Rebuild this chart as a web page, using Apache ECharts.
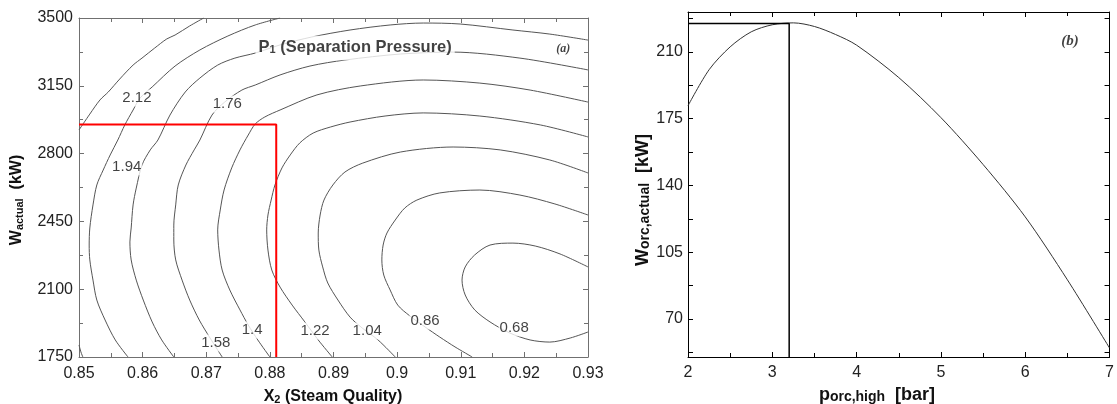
<!DOCTYPE html>
<html>
<head>
<meta charset="utf-8">
<script src="https://cdn.jsdelivr.net/npm/echarts@6/dist/echarts.min.js"></script>
<style>
html, body { margin: 0; padding: 0; background: #fff; }
#chart { width: 1117px; height: 404px; }
</style>
</head>
<body>
<div id="chart"></div>
<script>
// (a) contour lines of P1, points are [X2, W_actual]
var c212top = [[0.85,2922],[0.8517,3004],[0.8533,3077],[0.8546,3118],[0.8564,3185],[0.8585,3257],[0.8599,3293],[0.8619,3345],[0.8638,3392],[0.8651,3412],[0.8674,3459],[0.8696,3500]];
var c212corner = [[0.85,1812],[0.8503,1776],[0.8506,1750]];
var c194 = [[0.8577,1750],[0.8557,1838],[0.8541,1941],[0.8528,2044],[0.8522,2147],[0.8517,2251],[0.8516,2328],[0.8517,2416],[0.8522,2535],[0.8528,2638],[0.8538,2715],[0.8549,2793],[0.8561,2870],[0.8572,2948],[0.8585,3025],[0.8596,3087],[0.8615,3144],[0.8651,3252],[0.8690,3335],[0.8734,3407],[0.8777,3464],[0.8816,3500]];
var c176 = [[0.8649,1750],[0.8630,1838],[0.8615,1931],[0.8601,2044],[0.8590,2147],[0.8582,2251],[0.8580,2344],[0.8582,2416],[0.8585,2535],[0.8590,2622],[0.8599,2741],[0.8612,2819],[0.8624,2870],[0.8643,2999],[0.8667,3118],[0.8690,3190],[0.8718,3257],[0.8745,3293],[0.8777,3319],[0.8816,3361],[0.8866,3402],[0.8926,3438],[0.8989,3464],[0.9041,3474],[0.9099,3469],[0.9182,3438],[0.9240,3417],[0.93,3386]];
var c158 = [[0.8725,1750],[0.8706,1848],[0.8689,1941],[0.8674,2044],[0.8662,2147],[0.8652,2251],[0.8649,2354],[0.8649,2431],[0.8652,2535],[0.8656,2638],[0.8668,2741],[0.8681,2819],[0.8690,2870],[0.8709,2999],[0.8729,3066],[0.8756,3128],[0.8777,3154],[0.8816,3206],[0.8863,3252],[0.8918,3283],[0.9005,3314],[0.9088,3324],[0.9193,3293],[0.93,3232]];
var c140 = [[0.8800,1750],[0.8781,1838],[0.8766,1915],[0.8753,1993],[0.8737,2096],[0.8725,2199],[0.8720,2302],[0.8718,2406],[0.8722,2509],[0.8728,2612],[0.8740,2726],[0.8753,2819],[0.8766,2896],[0.8777,2953],[0.8792,2989],[0.8816,3025],[0.8874,3103],[0.8942,3149],[0.9041,3180],[0.9130,3164],[0.9209,3128],[0.93,3066]];
var c122 = [[0.8898,1750],[0.8876,1838],[0.8855,1931],[0.8835,2018],[0.8816,2111],[0.8803,2199],[0.8797,2302],[0.8795,2406],[0.8797,2483],[0.8802,2560],[0.8808,2638],[0.8819,2726],[0.8832,2793],[0.8847,2855],[0.8868,2906],[0.8895,2937],[0.8926,2963],[0.8981,2994],[0.9041,3010],[0.9130,2994],[0.9225,2948],[0.93,2886]];
var c104 = [[0.8997,1750],[0.8970,1838],[0.8945,1900],[0.8926,1956],[0.8907,2044],[0.8891,2132],[0.8883,2215],[0.8877,2302],[0.8876,2390],[0.8879,2483],[0.8885,2560],[0.8899,2638],[0.8918,2705],[0.8946,2751],[0.9005,2808],[0.9088,2834],[0.9162,2819],[0.9240,2767],[0.93,2700]];
var c086 = [[0.9118,1750],[0.9091,1802],[0.9067,1853],[0.9044,1905],[0.9020,1962],[0.9001,2018],[0.8989,2096],[0.8979,2173],[0.8976,2251],[0.8978,2328],[0.8984,2390],[0.8997,2457],[0.9012,2519],[0.9031,2560],[0.9067,2597],[0.9130,2612],[0.9193,2586],[0.9248,2540],[0.93,2483]];
var c068 = [[0.93,2215],[0.9256,2282],[0.9217,2323],[0.9182,2338],[0.9146,2328],[0.9122,2277],[0.9107,2215],[0.9102,2147],[0.9107,2070],[0.9122,1993],[0.9146,1931],[0.9177,1874],[0.9209,1838],[0.9240,1827],[0.9272,1848],[0.93,1879]];

// contour labels [X2, W, text]
var contourLabels = [
  [0.8591, 3087, '2.12'], [0.8575, 2731, '1.94'], [0.8733, 3056, '1.76'],
  [0.8715, 1822, '1.58'], [0.8772, 1889, '1.4'], [0.8871, 1884, '1.22'],
  [0.8953, 1884, '1.04'], [0.9044, 1936, '0.86'], [0.9184, 1900, '0.68']
];

// selected point in (a)
var selX2 = 0.881;
var selW = 2950;

// (b) ORC power vs high pressure
var pOrcHigh = [2.0, 2.25, 2.5, 2.75, 3.0, 3.25, 3.5, 3.75, 4.0, 4.5, 5.0, 5.5, 6.0, 6.5, 7.0];
var wOrcActual = [181.8, 200.7, 212.7, 220.6, 224.3, 225.3, 223.4, 219.2, 213.6, 196.6, 175.6, 151.0, 123.5, 90.5, 54.7];
var optP = 3.2;
var optW = 225;

// tick values for (b) y axis
var bTicks = [52.5, 70, 87.5, 105, 122.5, 140, 157.5, 175, 192.5, 210, 227.5];
var bLabels = [70, 105, 140, 175, 210];

var sans = '"Liberation Sans", Arial, sans-serif';
var serif = '"Liberation Serif", "Times New Roman", serif';

function rich(big, small) {
  return {
    b: { fontSize: big, fontWeight: 'bold', fill: '#111', color: '#111', fontFamily: sans, lineHeight: big, verticalAlign: 'top' },
    s: { fontSize: small, fontWeight: 'bold', fill: '#111', color: '#111', fontFamily: sans, lineHeight: small, padding: [Math.round(big * 0.45), 0, 0, 0], verticalAlign: 'bottom' }
  };
}

function plain(v) { return String(v); }

var grayA = '#707070';

var myChart = echarts.init(document.getElementById('chart'));

function contour(pts) {
  return {
    type: 'line', xAxisIndex: 0, yAxisIndex: 0, data: pts,
    showSymbol: false, smooth: 0.3, silent: true, z: 2,
    lineStyle: { color: '#555', width: 1 }
  };
}

var series = [c212top, c212corner, c194, c176, c158, c140, c122, c104, c086, c068].map(contour);

series.push({
  type: 'line', xAxisIndex: 0, yAxisIndex: 0, showSymbol: false, silent: true, z: 3,
  data: [[0.85, selW], [selX2, selW], [selX2, 1750]],
  lineStyle: { color: '#ff0000', width: 2 }
});

series.push({
  type: 'scatter', xAxisIndex: 0, yAxisIndex: 0, silent: true, z: 6,
  symbolSize: 1, itemStyle: { color: 'rgba(0,0,0,0)' },
  data: contourLabels,
  label: {
    show: true, position: 'inside', formatter: function (p) { return p.value[2]; },
    fontSize: 15, color: '#111', fontFamily: sans, backgroundColor: '#fff', padding: [1, 1]
  }
});

series.push({
  type: 'scatter', xAxisIndex: 0, yAxisIndex: 0, silent: true, z: 6,
  symbolSize: 1, itemStyle: { color: 'rgba(0,0,0,0)' },
  data: [[0.8934, 3345]],
  label: {
    show: true, position: 'inside', formatter: '{b|P}{s|1}{b| (Separation Pressure)}',
    backgroundColor: '#fff', padding: [3, 3, 5, 3], rich: rich(16.5, 11)
  }
});

series.push({
  type: 'scatter', xAxisIndex: 0, yAxisIndex: 0, silent: true, z: 6,
  symbolSize: 1, itemStyle: { color: 'rgba(0,0,0,0)' },
  data: [[0.9261, 3340]],
  label: { show: true, position: 'inside', formatter: '(a)', fontSize: 12, fontStyle: 'italic', fontWeight: 'bold', fontFamily: serif, color: '#111' }
});

series.push({
  type: 'line', xAxisIndex: 2, yAxisIndex: 2, showSymbol: false, silent: true, z: 2,
  data: pOrcHigh.map(function (p, i) { return [p, wOrcActual[i]]; }),
  smooth: 0.3,
  lineStyle: { color: '#333', width: 1 }
});

series.push({
  type: 'line', xAxisIndex: 2, yAxisIndex: 2, showSymbol: false, silent: true, z: 3,
  data: [[2, optW], [optP, optW], [optP, 50]],
  lineStyle: { color: '#000', width: 1.5 }
});

series.push({
  type: 'scatter', xAxisIndex: 2, yAxisIndex: 2, silent: true, z: 6,
  symbolSize: 1, itemStyle: { color: 'rgba(0,0,0,0)' },
  data: [[6.53, 215.9]],
  label: { show: true, position: 'inside', formatter: '(b)', fontSize: 15, fontStyle: 'italic', fontWeight: 'bold', fontFamily: serif, color: '#111' }
});

// axis titles as plain text, subscripts via rich text
function title(x, y, rot, text, big, small) {
  return {
    type: 'text', x: x, y: y, rotation: rot, silent: true,
    style: { text: text, align: 'center', verticalAlign: 'middle', rich: rich(big, small) }
  };
}

var option = {
  animation: false,
  backgroundColor: '#fff',
  grid: [
    { left: 79, top: 18, width: 509, height: 339 },
    { left: 688, top: 12, width: 428, height: 345 }
  ],
  graphic: [
    title(333, 397, 0, '{b|X}{s|2}{b| (Steam Quality)}', 16, 11),
    title(17, 200, Math.PI / 2, '{b|W}{s|actual}{b|  (kW)}', 16, 11),
    title(877, 395, 0, '{b|p}{s|orc,high}{b|  [bar]}', 18, 14),
    title(643, 200, Math.PI / 2, '{b|W}{s|orc,actual}{b|  [kW]}', 18, 14)
  ],
  xAxis: [
    { gridIndex: 0, type: 'value', position: 'bottom', min: 0.85, max: 0.93, interval: 0.01,
      axisLine: { show: true, onZero: false, lineStyle: { color: grayA } },
      axisTick: { show: true, inside: true, length: 5, lineStyle: { color: grayA } },
      minorTick: { show: true, splitNumber: 2, length: 4, lineStyle: { color: grayA } },
      splitLine: { show: false },
      axisLabel: { show: true, margin: 9, fontSize: 16, color: '#222', fontFamily: sans, formatter: plain } },
    { gridIndex: 0, type: 'value', position: 'top', min: 0.85, max: 0.93, interval: 0.01,
      axisLine: { show: true, onZero: false, lineStyle: { color: grayA } },
      axisTick: { show: true, inside: true, length: 5, lineStyle: { color: grayA } },
      minorTick: { show: true, splitNumber: 2, length: 4, lineStyle: { color: grayA } },
      splitLine: { show: false },
      axisLabel: { show: false } },
    { gridIndex: 1, type: 'value', position: 'bottom', min: 2, max: 7, interval: 1,
      axisLine: { show: true, onZero: false, lineStyle: { color: '#000' } },
      axisTick: { show: true, inside: true, length: 5, lineStyle: { color: '#000' } },
      minorTick: { show: true, splitNumber: 2, length: 4, lineStyle: { color: '#000' } },
      splitLine: { show: false },
      axisLabel: { show: true, margin: 8, fontSize: 16, color: '#222', fontFamily: sans, formatter: plain } },
    { gridIndex: 1, type: 'value', position: 'top', min: 2, max: 7, interval: 1,
      axisLine: { show: true, onZero: false, lineStyle: { color: '#000' } },
      axisTick: { show: true, inside: true, length: 5, lineStyle: { color: '#000' } },
      minorTick: { show: true, splitNumber: 2, length: 4, lineStyle: { color: '#000' } },
      splitLine: { show: false },
      axisLabel: { show: false } }
  ],
  yAxis: [
    { gridIndex: 0, type: 'value', position: 'left', min: 1750, max: 3500, interval: 350,
      axisLine: { show: true, onZero: false, lineStyle: { color: grayA } },
      axisTick: { show: true, inside: true, length: 5, lineStyle: { color: grayA } },
      minorTick: { show: true, splitNumber: 2, length: 4, lineStyle: { color: grayA } },
      splitLine: { show: false },
      axisLabel: { show: true, margin: 6, fontSize: 16, color: '#222', fontFamily: sans, formatter: plain } },
    { gridIndex: 0, type: 'value', position: 'right', min: 1750, max: 3500, interval: 350,
      axisLine: { show: true, onZero: false, lineStyle: { color: grayA } },
      axisTick: { show: true, inside: true, length: 5, lineStyle: { color: grayA } },
      minorTick: { show: true, splitNumber: 2, length: 4, lineStyle: { color: grayA } },
      splitLine: { show: false },
      axisLabel: { show: false } },
    { gridIndex: 1, type: 'value', position: 'left', min: 50, max: 231,
      axisLine: { show: true, onZero: false, lineStyle: { color: '#000' } },
      axisTick: { show: true, inside: true, length: 5, customValues: bTicks, lineStyle: { color: '#000' } },
      splitLine: { show: false },
      axisLabel: { show: true, margin: 5, fontSize: 16, color: '#222', fontFamily: sans, customValues: bLabels, formatter: plain } },
    { gridIndex: 1, type: 'value', position: 'right', min: 50, max: 231,
      axisLine: { show: true, onZero: false, lineStyle: { color: '#000' } },
      axisTick: { show: true, inside: true, length: 5, customValues: bTicks, lineStyle: { color: '#000' } },
      splitLine: { show: false },
      axisLabel: { show: false } }
  ],
  series: series
};

myChart.setOption(option);
</script>
</body>
</html>
